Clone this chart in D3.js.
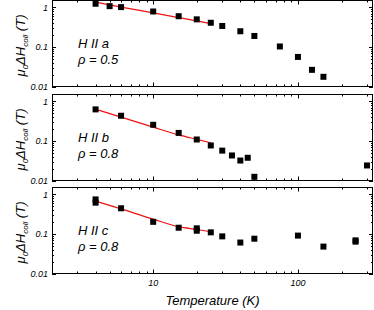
<!DOCTYPE html>
<html>
<head>
<meta charset="utf-8">
<script src="https://cdn.jsdelivr.net/npm/d3@7"></script>
<style>
  body { margin: 0; background: #fff; }
  svg { display: block; font-family: "Liberation Sans", Arial, sans-serif; font-style: italic; }
</style>
</head>
<body>
<div id="chart"></div>
<script>
// panel labels
const panelNames = ['H II a', 'H II b', 'H II c'];
const panelRho = ['\u03c1 = 0.5', '\u03c1 = 0.8', '\u03c1 = 0.8'];

// measured points, H || a
const tempA = [4, 5, 6, 10, 15, 20, 25, 30, 40, 50, 75, 100, 125, 150];
const valA = [1.24, 1.08, 1.02, 0.79, 0.60, 0.50, 0.41, 0.34, 0.25, 0.19, 0.103, 0.056, 0.0264, 0.0176];
// measured points, H || b
const tempB = [4, 6, 10, 15, 20, 25, 30, 35, 40, 45, 50, 300];
const valB = [0.63, 0.435, 0.257, 0.16, 0.109, 0.077, 0.057, 0.043, 0.032, 0.0376, 0.0124, 0.024];
// measured points, H || c
const tempC = [4, 4, 6, 10, 15, 20, 20, 25, 30, 40, 50, 100, 150, 250, 250];
const valC = [0.75, 0.62, 0.447, 0.203, 0.144, 0.139, 0.121, 0.110, 0.087, 0.0607, 0.076, 0.091, 0.048, 0.064, 0.069];

// fitted curves (red)
const fitT = [4, 6, 10, 15, 20, 25];
const fitA = [1.36, 1.02, 0.73, 0.555, 0.456, 0.39];
const fitB = [0.64, 0.40, 0.224, 0.143, 0.11, 0.09];
const fitC = [0.68, 0.43, 0.237, 0.153, 0.13, 0.114];

// axis ticks
const yTickVals = [0.01, 0.1, 1];
const yTickLabels = ['0.01', '0.1', '1'];
const xTickVals = [10, 100];
const xTickLabels = ['10', '100'];

const panels = [
  { t: tempA, v: valA, fit: fitA },
  { t: tempB, v: valB, fit: fitB },
  { t: tempC, v: valC, fit: fitC }
];

const W = 374, H = 310;
const left = 52, right = 373;
const panelTops = [0.5, 94.5, 187.5];
const panelH = 86;

const svg = d3.select('#chart').append('svg')
  .attr('width', W).attr('height', H);

const x = d3.scaleLog().domain([2, 330]).range([left, right]);

// minor ticks for x and y
const xMinor = [];
[1, 10, 100].forEach(d => { for (let k = 2; k <= 9; k++) { const v = d * k; if (v > 2 && v < 330 && v !== 10 && v !== 100) xMinor.push(v); } });
const yMinor = [];
[0.01, 0.1, 1].forEach(d => { for (let k = 2; k <= 9; k++) { const v = d * k; if (v < 1.5) yMinor.push(v); } });

panels.forEach((p, i) => {
  const top = panelTops[i];
  const y = d3.scaleLog().domain([0.01, 1.5]).range([top + panelH, top]);
  const g = svg.append('g');

  // frame
  g.append('rect')
    .attr('x', left + 0.5).attr('y', top)
    .attr('width', right - left - 1).attr('height', panelH)
    .attr('fill', 'none').attr('stroke', '#000').attr('stroke-width', 1);

  // y ticks (inward, both sides)
  const yt = g.append('g').attr('stroke', '#000').attr('stroke-width', 1);
  yTickVals.concat(yMinor).forEach(v => {
    const len = yTickVals.includes(v) ? 4 : 2;
    const yy = Math.round(y(v)) + 0.5;
    yt.append('line').attr('x1', left).attr('x2', left + len).attr('y1', yy).attr('y2', yy);
    yt.append('line').attr('x1', right).attr('x2', right - len).attr('y1', yy).attr('y2', yy);
  });
  yTickVals.forEach((v, k) => {
    g.append('text')
      .attr('x', left - 4).attr('y', y(v) + 3.5)
      .attr('text-anchor', 'end').attr('font-size', 9)
      .text(yTickLabels[k]);
  });

  // x ticks (inward, top and bottom)
  const xt = g.append('g').attr('stroke', '#000').attr('stroke-width', 1);
  xTickVals.concat(xMinor).forEach(v => {
    const len = xTickVals.includes(v) ? 4 : 2;
    const xx = Math.round(x(v)) + 0.5;
    xt.append('line').attr('x1', xx).attr('x2', xx).attr('y1', top).attr('y2', top + len);
    xt.append('line').attr('x1', xx).attr('x2', xx).attr('y1', top + panelH).attr('y2', top + panelH - len);
  });

  // y axis title
  const lab = g.append('text')
    .attr('transform', `translate(25,${top + panelH / 2 + 2}) rotate(-90)`)
    .attr('text-anchor', 'middle').attr('font-size', 13);
  lab.append('tspan').text('\u03bc');
  lab.append('tspan').attr('font-size', 8).attr('dy', 3).text('0');
  lab.append('tspan').attr('dy', -3).text('\u0394H');
  lab.append('tspan').attr('font-size', 8).attr('dy', 3).text('coll');
  lab.append('tspan').attr('dy', -3).text(' (T)');

  // panel annotations
  g.append('text').attr('x', 78).attr('y', top + 47).attr('font-size', 13).text(panelNames[i]);
  g.append('text').attr('x', 78).attr('y', top + 63).attr('font-size', 13).text(panelRho[i]);

  // fit curve
  const line = d3.line()
    .x(d => x(d[0])).y(d => y(d[1]))
    .curve(d3.curveMonotoneX);
  g.append('path')
    .datum(fitT.map((t, k) => [t, p.fit[k]]))
    .attr('d', line)
    .attr('fill', 'none').attr('stroke', '#ee1111').attr('stroke-width', 1.2);

  // data squares
  g.selectAll('rect.pt')
    .data(p.t.map((t, k) => [t, p.v[k]]))
    .enter().append('rect')
    .attr('class', 'pt')
    .attr('x', d => x(d[0]) - 3).attr('y', d => y(d[1]) - 3)
    .attr('width', 6).attr('height', 6)
    .attr('fill', '#000');

  // bottom tick labels on last panel only
  if (i === panels.length - 1) {
    xTickVals.forEach((v, k) => {
      g.append('text')
        .attr('x', x(v)).attr('y', top + panelH + 12)
        .attr('text-anchor', 'middle').attr('font-size', 9)
        .text(xTickLabels[k]);
    });
  }
});

svg.append('text')
  .attr('x', (left + right) / 2).attr('y', 305)
  .attr('text-anchor', 'middle').attr('font-size', 13)
  .text('Temperature (K)');
</script>
</body>
</html>
